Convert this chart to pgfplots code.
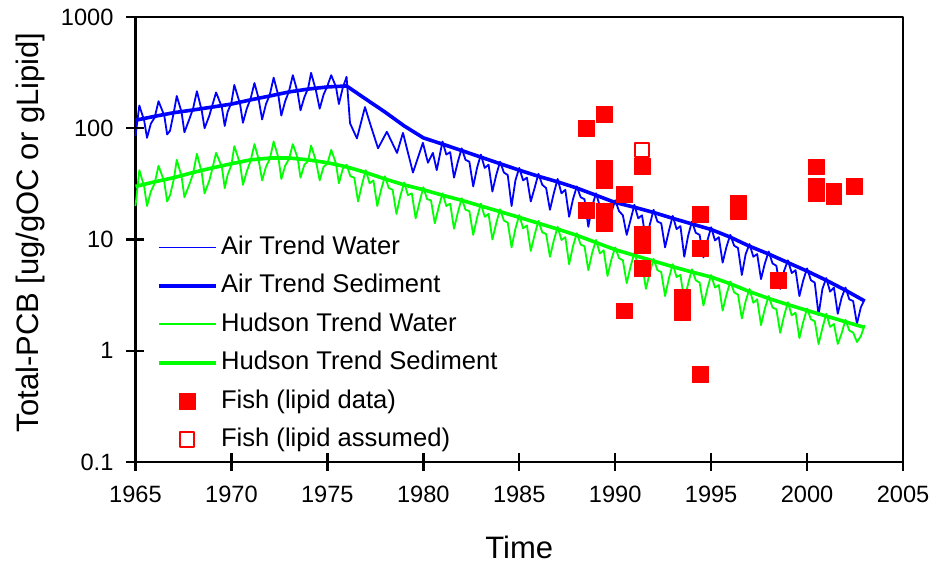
\documentclass[border=0pt]{standalone}
\usepackage{pgfplots}
\pgfplotsset{compat=1.18}
\usepackage{fontspec}
\setmainfont{Liberation Sans}
\definecolor{cblue}{RGB}{0,0,255}
\definecolor{cgreen}{RGB}{0,255,0}
\definecolor{cred}{RGB}{255,0,0}
\begin{document}
\begin{tikzpicture}
\begin{axis}[
  name=ax,
  scale only axis, width=383.75pt, height=222.5pt,
  xmin=1965, xmax=2005, ymode=log, ymin=0.1, ymax=1000,
  xtick={1965,1970,1975,1980,1985,1990,1995,2000,2005},
  xticklabels={1965,1970,1975,1980,1985,1990,1995,2000,2005},
  ytick={0.1,1,10,100,1000}, yticklabels={0.1,1,10,100,1000},
  yminorticks=false, xminorticks=false,
  tick align=center, major tick length=9pt,
  tick pos=left,
  axis line style={line width=1.2pt},
  major tick style={line width=1.2pt, draw=black},
  ticklabel style={font=\fontsize{11.8}{13}\selectfont},
  xticklabel style={yshift=-4pt},
  yticklabel style={xshift=-3pt},
  xlabel={Time}, ylabel={Total-PCB [ug/gOC or gLipid]},
  label style={font=\fontsize{15.5}{18}\selectfont},
  xlabel style={at={(axis description cs:0.5,-0.193)}, anchor=center},
  ylabel style={at={(axis description cs:-0.137,0.516)}, anchor=center, rotate=0},
  legend image code/.code={\draw[mark repeat=2,mark phase=2,#1] plot coordinates {(0pt,0pt) (14.25pt,0pt) (28.5pt,0pt)};},
  legend cell align=left,
  legend style={at={(axis description cs:0.0274,0.526)}, anchor=north west, draw=none, fill=none, inner sep=0pt, row sep=0pt,
    font=\fontsize{12.8}{15}\selectfont,
    nodes={text height=9.5pt, text depth=2.5pt, inner ysep=3.6pt, inner xsep=1.75pt}},
  line join=round,
  clip=false,
]
% Air Trend Water
\addplot[cblue, line width=0.9pt] coordinates {
(1965.0,85)(1965.2,160)(1965.45,118)(1965.6,82)(1965.8,110)
(1966.0,125)(1966.2,175)(1966.5,130)(1966.65,88)(1966.8,95)
(1967.0,140)(1967.15,195)(1967.4,140)(1967.55,92)(1967.8,120)
(1968.0,150)(1968.2,215)(1968.45,145)(1968.6,100)(1968.85,130)
(1969.0,160)(1969.2,210)(1969.5,155)(1969.65,105)(1969.8,140)
(1970.0,170)(1970.15,245)(1970.45,165)(1970.6,112)(1970.8,150)
(1971.0,185)(1971.2,255)(1971.4,190)(1971.6,120)(1971.8,165)
(1972.0,200)(1972.2,285)(1972.45,195)(1972.6,130)(1972.8,175)
(1973.0,215)(1973.2,300)(1973.45,210)(1973.6,145)(1973.8,190)
(1974.0,230)(1974.15,315)(1974.4,220)(1974.6,150)(1974.8,200)
(1975.0,240)(1975.2,300)(1975.45,235)(1975.6,165)(1975.8,230)
(1976.0,290)(1976.18,111)(1976.54,81)(1976.96,155)(1977.22,111)(1977.64,66)
(1978.1,93)(1978.63,60)(1978.94,91)(1979.46,40)(1979.98,74)(1980.24,49)(1980.5,60)(1980.7,42)
(1981.0,76)(1981.2,58)(1981.4,61)(1981.6,36)(1981.8,50)
(1982.0,66)(1982.2,52)(1982.4,50)(1982.6,30)(1982.8,44)
(1983.0,58)(1983.2,44)(1983.4,47)(1983.6,27)(1983.8,38)
(1984.0,50)(1984.2,40)(1984.4,38)(1984.6,20)(1984.8,34)
(1985.0,44)(1985.2,34)(1985.4,36)(1985.6,22)(1985.8,29)
(1986.0,39)(1986.2,31)(1986.4,29)(1986.6,18.5)(1986.8,26)
(1987.0,35)(1987.2,26)(1987.4,28)(1987.6,16)(1987.8,23)
(1988.0,30)(1988.2,24)(1988.4,23)(1988.6,13)(1988.8,20)
(1989.0,26)(1989.2,20)(1989.4,21)(1989.6,12.5)(1989.8,17.5)
(1990.0,22.5)(1990.2,18)(1990.4,16.5)(1990.6,11)(1990.8,15)
(1991.0,20.5)(1991.2,15.5)(1991.4,16.5)(1991.6,9.8)(1991.8,13.5)
(1992.0,18.5)(1992.2,14.5)(1992.4,14)(1992.6,8.5)(1992.8,12)
(1993.0,16.3)(1993.2,12.4)(1993.4,13.2)(1993.6,7)(1993.8,10.8)
(1994.0,14.5)(1994.2,11.5)(1994.4,11)(1994.6,6.9)(1994.8,9.7)
(1995.0,12.9)(1995.2,9.8)(1995.4,10.5)(1995.6,6.2)(1995.8,8.6)
(1996.0,11)(1996.2,8.8)(1996.4,8.4)(1996.6,4.8)(1996.8,7.4)
(1997.0,9.1)(1997.2,7)(1997.4,7.4)(1997.6,4.4)(1997.8,6.1)
(1998.0,7.8)(1998.2,6.1)(1998.4,5.8)(1998.6,3.6)(1998.8,5.2)
(1999.0,6.5)(1999.2,5)(1999.4,5.3)(1999.6,3.1)(1999.8,4.3)
(2000.0,5.5)(2000.2,4.3)(2000.4,4.1)(2000.6,2.1)(2000.8,3.6)
(2001.0,4.5)(2001.2,3.4)(2001.4,3.7)(2001.6,2.15)(2001.8,3.0)
(2002.0,3.7)(2002.2,2.9)(2002.4,2.8)(2002.6,1.75)(2002.8,2.45)
(2003.0,2.9)
};
\addlegendentry{Air Trend Water}
% Air Trend Sediment
\addplot[cblue, line width=1.8pt] coordinates {
(1965,118)(1966,128)(1967,138)(1968,146)(1969,155)(1970,165)(1971,180)(1972,195)
(1973,212)(1974,225)(1975,235)(1976,240)(1977,183)(1978,140)(1979,105)(1980,82)
(1981,72)(1982,63)(1983,55)(1984,48)(1985,42)(1986,37)(1987,33)(1988,29)(1989,25)
(1990,21.5)(1991,19.5)(1992,17.5)(1993,15.5)(1994,13.8)(1995,12.3)(1996,10.5)
(1997,8.7)(1998,7.4)(1999,6.2)(2000,5.2)(2001,4.3)(2002,3.5)(2003,2.8)
};
\addlegendentry{Air Trend Sediment}
% Hudson Trend Water
\addplot[cgreen, line width=0.9pt] coordinates {
(1965.0,20)(1965.2,42)(1965.45,30)(1965.6,20)(1965.8,27)
(1966.0,32)(1966.2,46)(1966.5,33)(1966.65,22)(1966.8,25)
(1967.0,35)(1967.15,52)(1967.4,37)(1967.55,24)(1967.8,31)
(1968.0,39)(1968.2,59)(1968.45,40)(1968.6,26)(1968.85,34)
(1969.0,43)(1969.2,60)(1969.5,45)(1969.65,29)(1969.8,38)
(1970.0,47)(1970.15,69)(1970.45,48)(1970.6,31)(1970.8,41)
(1971.0,51)(1971.2,72)(1971.4,54)(1971.6,34)(1971.8,45)
(1972.0,53)(1972.2,76)(1972.45,54)(1972.6,35)(1972.8,46)
(1973.0,53)(1973.2,72)(1973.45,54)(1973.6,36)(1973.8,47)
(1974.0,51)(1974.15,70)(1974.4,51)(1974.6,34)(1974.8,45)
(1975.0,48)(1975.2,64)(1975.45,48)(1975.6,32)(1975.8,43)
(1976.0,47)(1976.2,37)(1976.4,36)(1976.6,22)(1976.8,31)
(1977.0,42)(1977.2,32)(1977.4,34)(1977.6,20)(1977.8,28)
(1978.0,37)(1978.2,29)(1978.4,28)(1978.6,17)(1978.8,24.5)
(1979.0,32.5)(1979.2,25)(1979.4,26)(1979.6,15.5)(1979.8,21.5)
(1980.0,29.5)(1980.2,23)(1980.4,22.5)(1980.6,14)(1980.8,19.5)
(1981.0,26)(1981.2,20)(1981.4,21)(1981.6,12.5)(1981.8,17.5)
(1982.0,23.5)(1982.2,18.5)(1982.4,18)(1982.6,11)(1982.8,15.7)
(1983.0,21)(1983.2,16)(1983.4,17)(1983.6,10)(1983.8,14)
(1984.0,18.7)(1984.2,14.8)(1984.4,14.2)(1984.6,8.5)(1984.8,12.5)
(1985.0,16.6)(1985.2,12.6)(1985.4,13.4)(1985.6,7.9)(1985.8,11)
(1986.0,14.7)(1986.2,11.6)(1986.4,11.2)(1986.6,7)(1986.8,9.8)
(1987.0,13)(1987.2,9.9)(1987.4,10.5)(1987.6,6.0)(1987.8,8.7)
(1988.0,11.4)(1988.2,9)(1988.4,8.7)(1988.6,5.3)(1988.8,7.6)
(1989.0,9.9)(1989.2,7.5)(1989.4,8)(1989.6,4.7)(1989.8,6.6)
(1990.0,8.5)(1990.2,6.8)(1990.4,6.5)(1990.6,4.05)(1990.8,5.7)
(1991.0,7.6)(1991.2,5.8)(1991.4,6.1)(1991.6,3.6)(1991.8,5.0)
(1992.0,6.7)(1992.2,5.3)(1992.4,5.1)(1992.6,3.1)(1992.8,4.5)
(1993.0,6.0)(1993.2,4.6)(1993.4,4.8)(1993.6,2.8)(1993.8,4.0)
(1994.0,5.4)(1994.2,4.3)(1994.4,4.1)(1994.6,2.55)(1994.8,3.6)
(1995.0,4.8)(1995.2,3.7)(1995.4,3.9)(1995.6,2.3)(1995.8,3.2)
(1996.0,4.2)(1996.2,3.35)(1996.4,3.2)(1996.6,1.95)(1996.8,2.8)
(1997.0,3.6)(1997.2,2.7)(1997.4,2.9)(1997.6,1.7)(1997.8,2.4)
(1998.0,3.1)(1998.2,2.45)(1998.4,2.36)(1998.6,1.45)(1998.8,2.06)
(1999.0,2.73)(1999.2,2.08)(1999.4,2.2)(1999.6,1.3)(1999.8,1.82)
(2000.0,2.4)(2000.2,1.92)(2000.4,1.84)(2000.6,1.15)(2000.8,1.6)
(2001.0,2.15)(2001.2,1.64)(2001.4,1.74)(2001.6,1.15)(2001.8,1.43)
(2002.0,1.9)(2002.2,1.52)(2002.4,1.46)(2002.6,1.2)(2002.8,1.35)
(2003.0,1.7)
};
\addlegendentry{Hudson Trend Water}
% Hudson Trend Sediment
\addplot[cgreen, line width=1.8pt] coordinates {
(1965,30)(1966,33)(1967,36)(1968,40)(1969,44)(1970,48)(1971,52)(1972,54)(1973,54)
(1974,52)(1975,49)(1976,45)(1977,40)(1978,35)(1979,31)(1980,28)(1981,25)(1982,22.5)
(1983,20)(1984,17.8)(1985,15.8)(1986,14)(1987,12.4)(1988,10.9)(1989,9.4)(1990,8.1)
(1991,7.2)(1992,6.4)(1993,5.7)(1994,5.1)(1995,4.6)(1996,4.0)(1997,3.4)(1998,2.95)
(1999,2.6)(2000,2.3)(2001,2.05)(2002,1.82)(2003,1.62)
};
\addlegendentry{Hudson Trend Sediment}
% Fish (lipid data)
\addplot[only marks, mark=square*, mark size=3.9pt, color=cred, mark options={fill=cred, draw=cred}] coordinates {
(1988.5,100)(1989.43,133)(1989.43,43.5)(1989.43,33.5)(1989.43,18)(1989.43,15.5)(1989.43,13.8)
(1988.5,18.2)(1990.47,25.5)(1990.47,2.29)
(1991.41,45.6)(1991.41,11.1)(1991.41,8.8)(1991.41,5.47)
(1993.5,3.06)(1993.5,2.22)
(1994.45,16.8)(1994.45,8.3)(1994.45,0.61)
(1996.43,21.1)(1996.43,17.8)
(1998.5,4.3)
(2000.48,45)(2000.48,30)(2000.48,26)
(2001.4,27)(2001.4,24.5)
(2002.46,29.9)
};
\addlegendentry{Fish (lipid data)}
% Fish (lipid assumed)
\addplot[only marks, mark=square*, mark size=3.6pt, color=cred, mark options={fill=white, draw=cred, line width=1pt}] coordinates {
(1991.41,63.7)
};
\addlegendentry{Fish (lipid assumed)}
% tick marks crossing the axes
\pgfplotsinvokeforeach{1965,1970,1975,1980,1985,1990,1995,2000,2005}{
  \draw[line width=1.2pt, black] ([yshift=-4.5pt]axis cs:#1,0.1) -- ([yshift=4.5pt]axis cs:#1,0.1);
}
\pgfplotsinvokeforeach{0.1,1,10,100,1000}{
  \draw[line width=1.2pt, black] ([xshift=-4.5pt]axis cs:1965,#1) -- ([xshift=4.5pt]axis cs:1965,#1);
}
\end{axis}
\pgfresetboundingbox
\path[use as bounding box] ([xshift=-67.75pt,yshift=-53.5pt]ax.south west) rectangle ([xshift=16pt,yshift=8.5pt]ax.north east);
\end{tikzpicture}
\end{document}
